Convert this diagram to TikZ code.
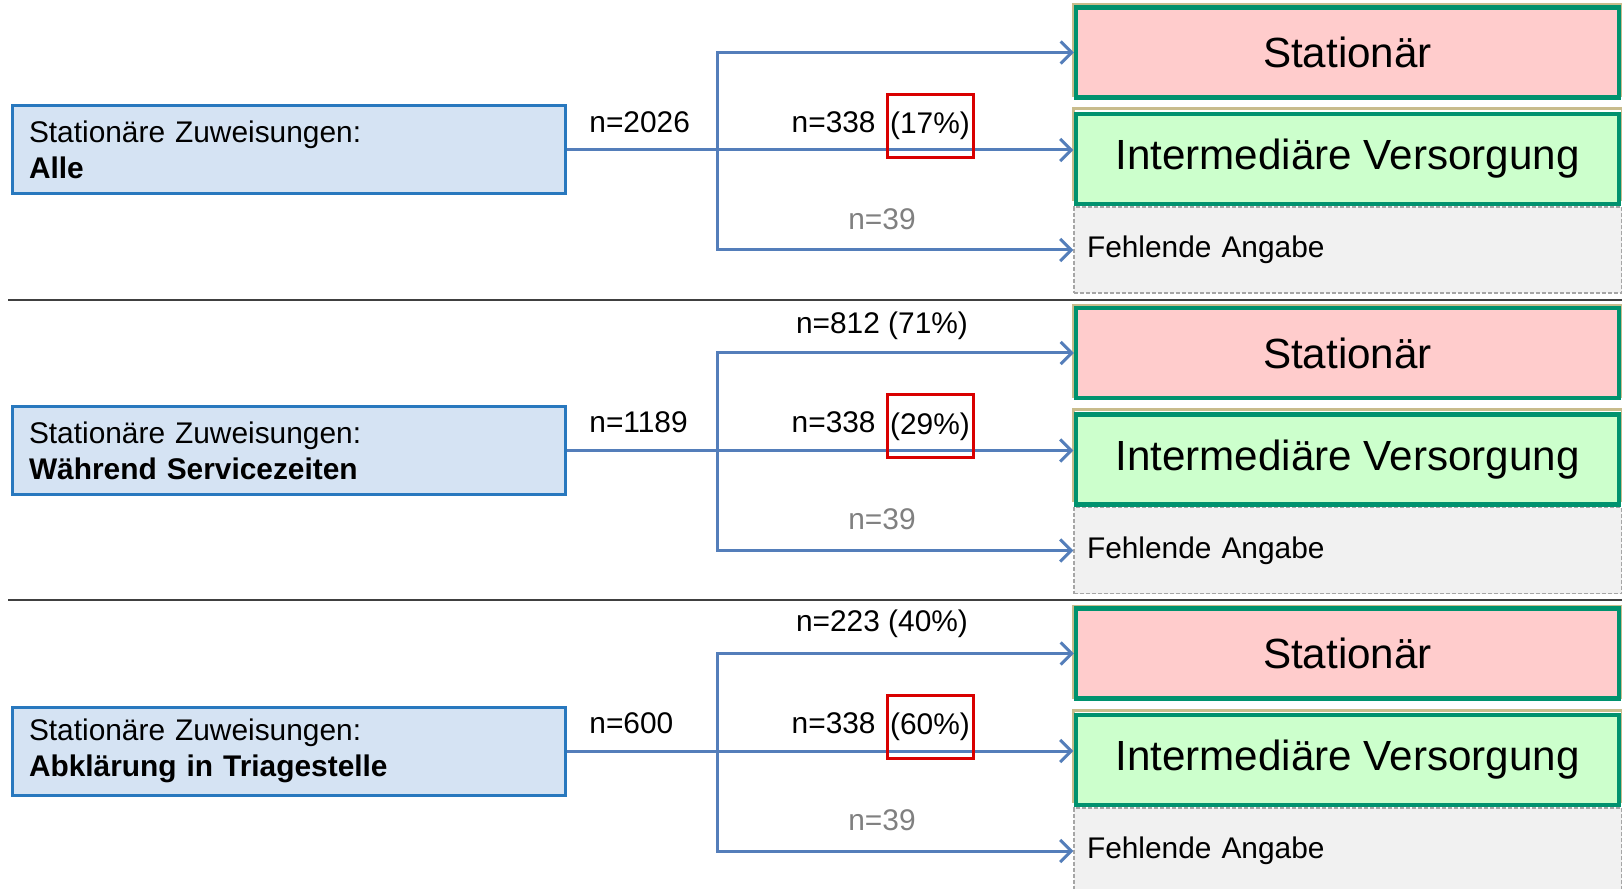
\documentclass[tikz,border=0pt]{standalone}
\usepackage{fontspec}
\setmainfont{Liberation Sans}
\usetikzlibrary{arrows.meta,calc}
\definecolor{boxblue}{RGB}{213,227,243}
\definecolor{lineblue}{RGB}{40,120,190}
\definecolor{arrowblue}{RGB}{84,126,186}
\definecolor{statred}{RGB}{255,204,204}
\definecolor{intgreen}{RGB}{204,255,204}
\definecolor{framegreen}{RGB}{0,146,110}
\definecolor{missgray}{RGB}{241,241,241}
\definecolor{shadetan}{RGB}{200,188,140}
\tikzset{
  srcbox/.style={draw=lineblue, line width=0.3mm, fill=boxblue, minimum width=55.3mm, minimum height=8.8mm,
    text width=51.9mm, inner xsep=1.7mm, align=left, font=\fontsize{8.5}{10.2}\selectfont},
  outbox/.style={draw=framegreen, line width=0.45mm, minimum width=54.3mm, minimum height=9mm,
    font=\fontsize{12}{14}\selectfont},
  missbox/.style={draw=gray!70, dash pattern=on 0.4mm off 0.2mm, fill=missgray, minimum width=54.8mm,
    minimum height=8.6mm, text width=52.2mm, inner xsep=1.3mm, align=left, font=\fontsize{8.5}{10}\selectfont},
  flow/.style={draw=arrowblue, line width=0.3mm, -{Straight Barb[length=1.1mm,width=2.2mm]}},
  count/.style={font=\fontsize{8.5}{10}\selectfont},
  pctbox/.style={count, draw=red!85!black, line width=0.3mm, minimum width=8.6mm, minimum height=6.3mm, inner sep=0pt},
  sep/.style={draw=black!75, line width=0.2mm}
}
\begin{document}
\begin{tikzpicture}[x=0.1mm,y=-0.1mm]
  \clip (0,0) rectangle (1622,889);
  \fill[white] (0,0) rectangle (1622,889);
  \foreach \i/\off/\head/\cnt/\shr in {1/0/Alle/2026/17,
      2/300.5/Während Servicezeiten/1189/29,
      3/601/Abklärung in Triagestelle/600/60}{
    \draw[shadetan, line width=0.3mm] (1073,5+\off) rectangle (1622,96+\off);
    \draw[shadetan, line width=0.3mm] (1073,109+\off) rectangle (1622,200+\off);
    \node[srcbox] (src\i) at (288.5,150+\off) {Stationäre Zuweisungen:\\\textbf{\head}};
    \node[outbox, fill=statred] (stat\i) at (1347.5,52.5+\off) {Stationär};
    \node[outbox, fill=intgreen] (inter\i) at (1347.5,159+\off) {Intermediäre Versorgung};
    \node[missbox] (fehl\i) at (1348,250+\off) {Fehlende Angabe};
    \coordinate (br\i) at (717,150+\off);
    \draw[flow] (src\i.east) -- (src\i.east -| fehl\i.west);
    \draw[flow] (br\i) |- (stat\i.west);
    \draw[flow] (br\i) |- (fehl\i.west);
    \node[count, anchor=west] (tot\i) at (577,122+\off) {n=\cnt};
    \node[count, anchor=east] (mid\i) at (888,122+\off) {n=338};
    \node[pctbox] (pct\i) at (930,126+\off) {(\shr\%)};
    \node[count, text=gray] (miss\i) at (882,219+\off) {n=39};
  }
  \node[count] (top2) at (882,326) {n=812 (71\%)};
  \node[count] (top3) at (882,624) {n=223 (40\%)};
  \draw[sep] (8,300) -- (1622,300);
  \draw[sep] (8,600) -- (1622,600);
\end{tikzpicture}
\end{document}
